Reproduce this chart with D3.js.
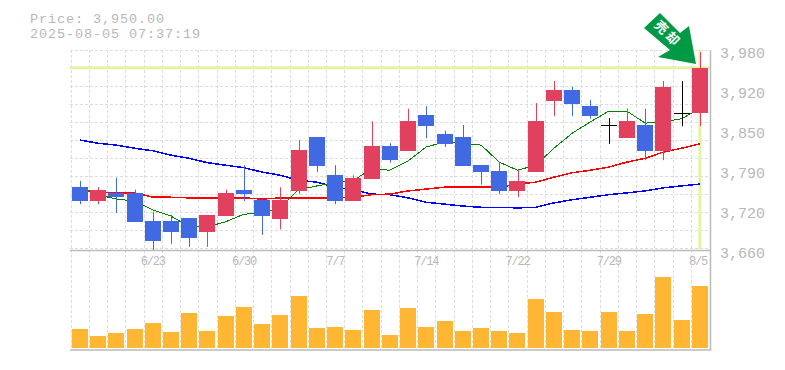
<!DOCTYPE html>
<meta charset="utf-8">
<title>Stock chart</title>
<style>
html, body { margin: 0; padding: 0; background: #fff; }
text { font-family: "Liberation Mono", monospace; fill: #b8b8b8; }
.tick line, .domain { display: none; }
</style>
<script src="https://d3js.org/d3.v7.min.js"></script>
<body>
<svg id="chart" width="785" height="370"></svg>
<script>
var dates = ["6/17","6/18","6/19","6/20","6/23","6/24","6/25","6/26","6/27","6/30","7/1","7/2","7/3","7/4","7/7","7/8","7/9","7/10","7/11","7/14","7/15","7/16","7/17","7/18","7/22","7/23","7/24","7/25","7/28","7/29","7/30","7/31","8/1","8/4","8/5"];
var dateTicks = ["6/23","6/30","7/7","7/14","7/22","7/29","8/5"];
var priceLabels = ["3,660","3,720","3,790","3,850","3,920","3,980"];
var opens = [3760,3738,3751,3751,3706,3706,3711,3689,3714,3756,3740,3709,3754,3840,3779,3738,3773,3826,3818,3875,3845,3840,3795,3786,3754,3784,3897,3915,3889,3859,3838,3859,3818,3878,3878];
var closes = [3738,3756,3744,3705,3674,3689,3679,3716,3751,3749,3714,3740,3819,3794,3738,3775,3826,3803,3865,3857,3829,3794,3784,3754,3770,3865,3915,3893,3873,3859,3865,3818,3920,3878,3950];
var highs = [3770,3760,3775,3756,3721,3716,3711,3716,3756,3795,3741,3760,3835,3840,3795,3779,3865,3830,3885,3889,3850,3859,3795,3800,3787,3894,3929,3920,3899,3870,3885,3885,3929,3929,3975];
var lows = [3733,3733,3719,3705,3660,3670,3665,3665,3714,3738,3684,3693,3749,3784,3733,3738,3773,3799,3818,3838,3824,3794,3764,3749,3744,3784,3873,3873,3869,3829,3838,3803,3803,3857,3857];
var ma5 = [3759,3748,3741,3738,3724,3714,3697,3697,3705,3717,3719,3728,3756,3762,3767,3771,3789,3787,3802,3824,3832,3830,3827,3800,3787,3795,3822,3846,3864,3881,3881,3862,3864,3869,3885];
var ma25 = [3756,3752,3751,3751,3744,3744,3743,3743,3743,3743,3741,3743,3743,3743,3743,3744,3748,3749,3754,3757,3760,3760,3760,3760,3765,3768,3776,3783,3787,3792,3800,3806,3816,3822,3829];
var ma75 = [3835,3830,3827,3822,3818,3811,3806,3799,3795,3791,3784,3779,3771,3768,3760,3756,3749,3748,3743,3736,3733,3730,3728,3728,3727,3728,3735,3740,3744,3748,3751,3754,3759,3762,3765];
var volumes = [19,12,15,19,25,16,35,17,32,41,24,33,52,20,21,18,38,13,40,21,27,17,20,17,15,49,36,18,17,36,17,34,71,28,62];
var lastPrice = 3950;

var svg = d3.select("#chart");

var x = d3.scaleBand().domain(dates).range([70.7, 709]).paddingInner(0.12).paddingOuter(0.06);
var y = d3.scaleLinear().domain([3660, 3980]).range([250, 49]);
var yv = d3.scaleLinear().domain([0, 98]).range([348, 250]);
var yLabel = d3.scalePoint().domain(priceLabels).range([253, 53]);
var step = x.step();
var cx = function(d) { return x(d) + x.bandwidth() / 2; };

// grid
var grid = svg.append("g").attr("stroke", "#ddd").attr("stroke-dasharray", "3,2");
d3.range(0, 12).forEach(function(i) {
  grid.append("line").attr("x1", 70).attr("x2", 710).attr("y1", 50.5 + i * 18).attr("y2", 50.5 + i * 18);
});
dates.forEach(function(d) {
  var gx = Math.round(cx(d) - step / 2) + 0.5;
  grid.append("line").attr("x1", gx).attr("x2", gx).attr("y1", 50).attr("y2", 350);
});

// last price marker
svg.append("line").attr("x1", 70).attr("x2", 710).attr("y1", y(lastPrice)).attr("y2", y(lastPrice))
  .attr("stroke", "#e2f3a5").attr("stroke-width", 3);
svg.append("line").attr("x1", cx("8/5")).attr("x2", cx("8/5")).attr("y1", 50).attr("y2", 249)
  .attr("stroke", "#e2f3a5").attr("stroke-width", 3);

// frame
svg.append("path").attr("d", "M70,250.5H710.5V50M70,350H710.5V250")
  .attr("fill", "none").attr("stroke", "#bbb").attr("stroke-width", 1.5);

// moving averages, no antialiasing like the original
function maLine(values, color, width) {
  var line = d3.line().x(function(d, i) { return cx(dates[i]); }).y(function(d) { return y(d); });
  svg.append("path").datum(values).attr("d", line).attr("fill", "none").attr("stroke", color)
    .attr("stroke-width", width).attr("shape-rendering", "crispEdges");
}
maLine(ma75, "#0000ff", 1.5);
maLine(ma25, "#ff0000", 1.5);
maLine(ma5, "#008000", 1);

// candles
var candles = svg.append("g").selectAll("g").data(dates).enter().append("g");
function candleColor(i) {
  return closes[i] > opens[i] ? "#e1415f" : closes[i] < opens[i] ? "#4169e1" : "#000";
}
candles.append("line")
  .attr("x1", function(d) { return Math.round(cx(d)) + 0.5; })
  .attr("x2", function(d) { return Math.round(cx(d)) + 0.5; })
  .attr("y1", function(d, i) { return y(highs[i]); })
  .attr("y2", function(d, i) { return y(lows[i]); })
  .attr("stroke", function(d, i) { return candleColor(i); });
candles.append("rect")
  .attr("x", function(d) { return Math.round(x(d)); })
  .attr("width", 16)
  .attr("y", function(d, i) { return Math.round(y(Math.max(opens[i], closes[i]))); })
  .attr("height", function(d, i) { return Math.max(1, Math.round(y(Math.min(opens[i], closes[i])) - y(Math.max(opens[i], closes[i])))); })
  .attr("fill", function(d, i) { return candleColor(i); });

// volume
svg.append("g").selectAll("rect").data(volumes).enter().append("rect")
  .attr("x", function(d, i) { return Math.round(x(dates[i])); })
  .attr("width", 16)
  .attr("y", function(d) { return yv(d); })
  .attr("height", function(d) { return yv(0) - yv(d); })
  .attr("fill", "#ffb733");

// axes
var xAxis = svg.append("g").attr("transform", "translate(0,256)")
  .call(d3.axisBottom(x).tickValues(dateTicks).tickSize(0).tickPadding(0));
xAxis.selectAll("text").style("font-size", "12px").style("letter-spacing", "-1.2px").attr("dy", "0.72em").attr("dx", function(d) { return d === "8/5" ? -2 : 0; });
xAxis.attr("font-family", null);

var yAxis = svg.append("g").attr("transform", "translate(720,0)")
  .call(d3.axisRight(yLabel).tickSize(0).tickPadding(0));
yAxis.selectAll("text").style("font-size", "15px");
yAxis.attr("font-family", null);

// header
svg.append("text").attr("x", 30).attr("y", 22.5).style("font-size", "13.5px").style("letter-spacing", "0.9px").text("Price: 3,950.00");
svg.append("text").attr("x", 30).attr("y", 38).style("font-size", "13.5px").style("letter-spacing", "0.9px").text("2025-08-05 07:37:19");

// arrow
svg.append("polygon").attr("points", "660,13 644,28 670,50 658,57 696,64 689,26 680,33").attr("fill", "#009944");
svg.append("text").attr("transform", "translate(668,34) rotate(45)").attr("text-anchor", "middle").attr("dy", "0.35em")
  .style("font-family", "'Noto Sans CJK JP'").style("font-size", "13px").style("font-weight", "bold").style("letter-spacing", "3px").style("fill", "#fff").text("売却");
</script>
</body>
